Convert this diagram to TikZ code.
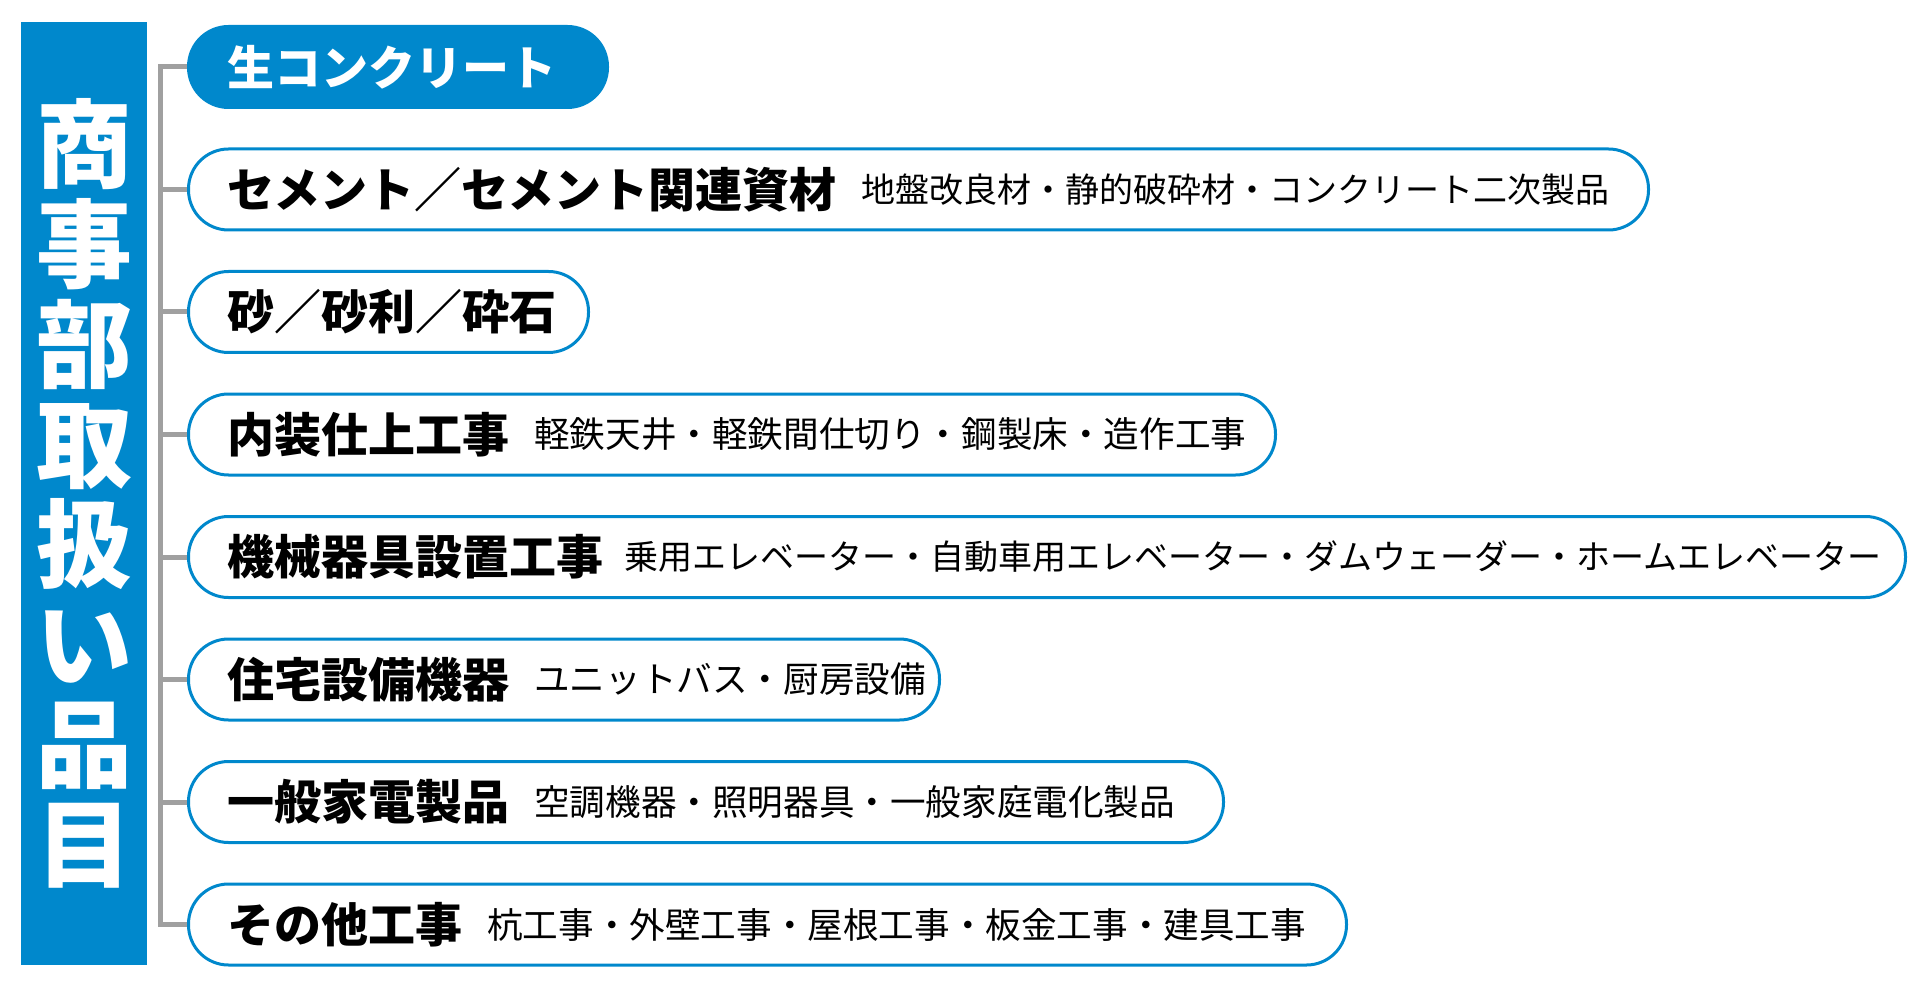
\documentclass[tikz,border=0pt]{standalone}
\usepackage{fontspec}
\setmainfont{Noto Sans CJK JP}
\usepackage{xcolor}
\usepackage{tikz}
\usetikzlibrary{positioning}
\definecolor{itemblue}{HTML}{0088CC}
\definecolor{linegray}{HTML}{A0A0A0}
\tikzstyle{titlebar} = [rectangle, fill=itemblue, text=white, minimum width=63pt, minimum height=471.5pt, align=center, inner sep=0pt, font=\fontsize{48}{50}\selectfont\bfseries]
\tikzstyle{pill} = [rectangle, rounded corners=20pt, minimum height=40.5pt, draw=itemblue, line width=1.5pt, fill=white, inner sep=0pt, anchor=west]
\tikzstyle{pillfill} = [pill, fill=itemblue]
\tikzstyle{mainlabel} = [inner sep=0pt, font=\fontsize{23.5}{28}\selectfont\bfseries]
\tikzstyle{sublabel} = [inner sep=0pt, font=\fontsize{17.8}{20}\selectfont]
\tikzstyle{sublong} = [sublabel, font=\fontsize{17}{20}\selectfont]
\tikzstyle{branch} = [draw=linegray, line width=2.5pt, line join=miter]

\begin{document}
\begin{tikzpicture}[x=0.5pt, y=-0.5pt]
\useasboundingbox (0,0) rectangle (1920,989);
% Title
\node (title) [titlebar] at (84,493.5) {商\\事\\部\\取\\扱\\い\\品\\目};
\coordinate (trunk) at (160,0);

% Items
\node (nama) [pillfill, minimum width=209.5pt] at (187,67) {};
\node (cement) [pill, minimum width=730pt] at (187,189.5) {};
\node (jari) [pill, minimum width=200pt] at (187,312) {};
\node (naiso) [pill, minimum width=543.5pt] at (187,434.5) {};
\node (kikai) [pill, minimum width=858.5pt] at (187,557) {};
\node (jutaku) [pill, minimum width=375.5pt] at (187,679.5) {};
\node (kaden) [pill, minimum width=517.5pt] at (187,802) {};
\node (sonota) [pill, minimum width=579pt] at (187,924.5) {};

% Labels
\node (namaname) [mainlabel, text=white, right=20pt of nama.west] {生コンクリート};
\node (cementname) [mainlabel, right=20pt of cement.west] {セメント／セメント関連資材};
\node (cementsub) [sublong, right=12pt of cementname] {地盤改良材・静的破砕材・コンクリート二次製品};
\node (jariname) [mainlabel, right=20pt of jari.west] {砂／砂利／砕石};
\node (naisoname) [mainlabel, right=20pt of naiso.west] {内装仕上工事};
\node (naisosub) [sublabel, right=12pt of naisoname] {軽鉄天井・軽鉄間仕切り・鋼製床・造作工事};
\node (kikainame) [mainlabel, right=20pt of kikai.west] {機械器具設置工事};
\node (kikaisub) [sublong, right=10pt of kikainame] {乗用エレベーター・自動車用エレベーター・ダムウェーダー・ホームエレベーター};
\node (jutakuname) [mainlabel, right=20pt of jutaku.west] {住宅設備機器};
\node (jutakusub) [sublabel, right=12pt of jutakuname] {ユニットバス・厨房設備};
\node (kadenname) [mainlabel, right=20pt of kaden.west] {一般家電製品};
\node (kadensub) [sublabel, right=12pt of kadenname] {空調機器・照明器具・一般家庭電化製品};
\node (sonotaname) [mainlabel, right=20pt of sonota.west] {その他工事};
\node (sonotasub) [sublabel, right=12pt of sonotaname] {杭工事・外壁工事・屋根工事・板金工事・建具工事};

% Lines
\draw [branch] (nama.west) -| (trunk |- sonota.west) -- (sonota.west);
\draw [branch] (trunk |- cement.west) -- (cement.west);
\draw [branch] (trunk |- jari.west) -- (jari.west);
\draw [branch] (trunk |- naiso.west) -- (naiso.west);
\draw [branch] (trunk |- kikai.west) -- (kikai.west);
\draw [branch] (trunk |- jutaku.west) -- (jutaku.west);
\draw [branch] (trunk |- kaden.west) -- (kaden.west);
\end{tikzpicture}
\end{document}
